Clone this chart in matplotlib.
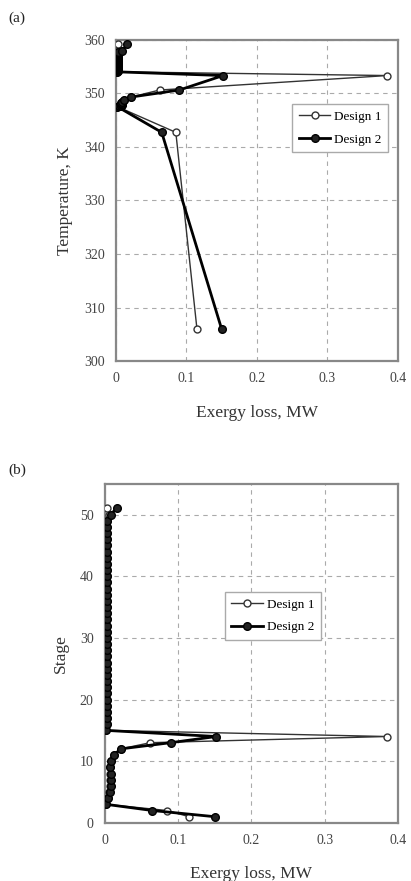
import numpy as np
import matplotlib
matplotlib.use("Agg")
import matplotlib.pyplot as plt

plt.rcParams['font.family'] = ['Liberation Serif', 'DejaVu Serif']

# stage numbers, bottom to top
stages = np.arange(1, 52)

# exergy loss per stage, MW
loss_d1 = [0.115, 0.085, 0.002, 0.004, 0.006, 0.007, 0.007, 0.007, 0.007, 0.008,
           0.012, 0.022, 0.062, 0.385, 0.001] + [0.003] * 34 + [0.006, 0.003]
loss_d2 = [0.150, 0.065, 0.002, 0.005, 0.007, 0.008, 0.008, 0.008, 0.007, 0.008,
           0.012, 0.022, 0.090, 0.152, 0.001] + [0.003] * 34 + [0.008, 0.016]

# stage temperatures, K
temp = [306.0, 342.7, 347.5, 347.6, 347.7, 347.8, 347.9, 348.0, 348.1, 348.3,
        348.7, 349.3, 350.6, 353.3, 354.0,
        354.1, 354.3, 354.5, 354.6, 354.8, 354.9, 355.0, 355.1, 355.2, 355.3,
        355.4, 355.5, 355.6, 355.7, 355.8, 355.9, 356.0, 356.1, 356.2, 356.3,
        356.4, 356.5, 356.6, 356.7, 356.8, 356.9, 357.0, 357.1, 357.2, 357.3,
        357.4, 357.5, 357.6, 357.7, 357.9, 359.1]

x_ticks = [0, 0.1, 0.2, 0.3, 0.4]
x_labels = ['0', '0.1', '0.2', '0.3', '0.4']

fig = plt.figure(figsize=(4.11, 8.81), dpi=100)
ax1 = fig.add_axes([0.282, 0.590, 0.686, 0.365])
ax2 = fig.add_axes([0.255, 0.066, 0.713, 0.385])


def style(ax):
    for s in ax.spines.values():
        s.set_color('#888888')
        s.set_linewidth(1.6)
    ax.tick_params(length=0, labelsize=10, labelcolor='#444444', pad=8)
    ax.grid(True, linestyle=(0, (4, 4)), color='#aaaaaa', linewidth=0.8)
    ax.set_axisbelow(True)
    ax.set_xlim(0, 0.4)
    ax.set_xticks(x_ticks)
    ax.set_xticklabels(x_labels)


def draw(ax, yvals):
    ax.plot(loss_d1, yvals, '-o', color='#333333', lw=1.0, ms=5,
            mfc='white', mec='#333333', mew=1.0, label='Design 1', zorder=3)
    ax.plot(loss_d2, yvals, '-o', color='black', lw=2.0, ms=5.5,
            mfc='#222222', mec='black', label='Design 2', zorder=4)


# (a) temperature profile
style(ax1)
draw(ax1, temp)
ax1.set_ylim(300, 360)
ax1.set_yticks(range(300, 361, 10))
ax1.set_xlabel('Exergy loss, MW', fontsize=12.5, color='#333333', labelpad=14)
ax1.set_ylabel('Temperature, K', fontsize=12.5, color='#333333', labelpad=8)
leg1 = ax1.legend(loc='upper right', bbox_to_anchor=(0.99, 0.82), fontsize=9.5,
                  fancybox=False, framealpha=1, handlelength=2.4,
                  borderpad=0.5, labelspacing=0.8, handletextpad=0.3)
leg1.get_frame().set_edgecolor('#aaaaaa')
fig.text(0.02, 0.975, '(a)', fontsize=11, color='#222222')

# (b) stage profile
style(ax2)
draw(ax2, stages)
ax2.set_ylim(0, 55)
ax2.set_yticks(range(0, 51, 10))
ax2.set_xlabel('Exergy loss, MW', fontsize=12.5, color='#333333', labelpad=14)
ax2.set_ylabel('Stage', fontsize=12.5, color='#333333', labelpad=8)
leg2 = ax2.legend(loc='center', bbox_to_anchor=(0.574, 0.61), fontsize=9.5,
                  fancybox=False, framealpha=1, handlelength=2.4,
                  borderpad=0.5, labelspacing=0.8, handletextpad=0.3)
leg2.get_frame().set_edgecolor('#aaaaaa')
fig.text(0.02, 0.462, '(b)', fontsize=11, color='#222222')

fig.savefig('out.png', dpi=100)
